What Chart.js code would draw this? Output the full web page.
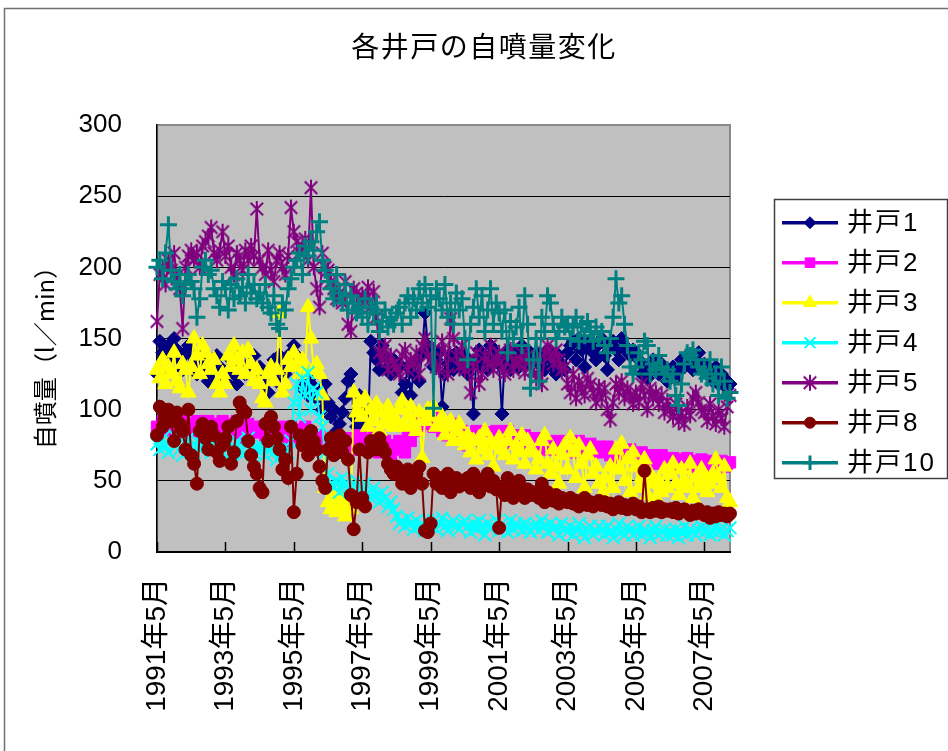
<!DOCTYPE html>
<html>
<head>
<meta charset="utf-8">
<script src="https://cdn.jsdelivr.net/npm/chart.js@4/dist/chart.umd.min.js"></script>
<style>
html,body{margin:0;padding:0;background:#fff;}
canvas{display:block;}
</style>
</head>
<body>
<canvas id="c" width="948" height="751"></canvas>
<script>
// ---- texts ----
const titleText = '各井戸の自噴量変化';
const yTitle = '自噴量（l／min）';
const seriesNames = ['井戸1','井戸2','井戸3','井戸4','井戸5','井戸8','井戸10'];
const yTicks = [0,50,100,150,200,250,300];
const xTickLabels = ['1991年5月','1993年5月','1995年5月','1997年5月','1999年5月','2001年5月','2003年5月','2005年5月','2007年5月'];

// ---- categories: monthly, 1991年5月 .. 2008年2月 ----
const startYear = 1991, startMonth = 5, monthCount = 202;
const months = [];
for (let i = 0; i < monthCount; i++) {
  const m = startMonth - 1 + i;
  months.push((startYear + Math.floor(m / 12)) + '年' + (m % 12 + 1) + '月');
}

// ---- series values (l/min), one row per year from May ----
const well1 = [
125,148,140,135,145,138,150,142,135,128,140,145,
138,130,125,135,142,128,120,132,125,138,130,122,
120,128,135,125,118,130,140,125,132,128,138,122,
130,118,125,112,128,135,120,138,130,125,132,140,
145,138,128,115,120,110,118,125,108,112,100,118,
105,95,100,85,90,98,108,120,125,95,88,110,
98,92,85,148,140,135,128,145,138,130,125,135,
128,132,112,118,130,110,125,135,120,140,168,145,
138,130,135,140,102,125,132,138,128,140,135,130,
138,125,132,97,135,142,130,138,128,145,135,140,
132,97,138,142,128,135,140,130,145,138,132,140,
135,140,132,138,128,142,135,130,125,138,132,128,
140,145,148,135,150,142,130,145,148,140,135,146,
150,138,128,145,148,142,135,150,145,140,138,142,
140,135,125,130,122,128,135,130,125,132,128,120,
125,130,122,128,135,130,138,132,128,135,140,130,
132,125,128,120,130,118,125,122,115,118];
const well2 = [
88,85,92,90,86,95,88,82,90,94,87,85,
90,88,92,85,80,88,92,86,90,84,88,92,
86,90,84,88,92,85,80,88,90,86,84,88,
85,88,82,90,86,80,84,88,82,78,85,88,
84,80,86,82,88,78,84,80,76,82,78,75,
78,75,80,72,76,78,74,80,76,72,78,82,
80,75,72,78,82,76,70,74,78,72,68,75,
72,78,75,70,82,78,85,90,88,92,95,90,
92,88,95,90,85,88,82,86,90,84,80,85,
78,75,80,82,85,80,78,84,80,82,78,85,
80,78,82,85,80,76,82,80,78,82,80,76,
78,75,80,76,72,78,74,76,72,78,75,70,
74,70,76,72,78,74,70,72,76,70,72,74,
72,70,74,68,72,70,66,72,70,68,72,66,
68,65,70,66,62,68,64,66,62,68,65,62,
64,66,62,60,65,63,66,62,64,60,63,65,
62,64,60,63,58,62,64,60,62,63];
const well3 = [
128,122,135,118,130,125,140,120,115,132,128,112,
130,150,138,125,145,140,132,128,135,118,112,125,
118,138,130,145,135,128,140,125,142,132,120,128,
118,108,105,125,130,120,128,168,112,118,135,130,
140,132,125,135,128,172,150,128,132,125,110,45,
35,30,42,28,38,32,25,40,30,112,98,105,
95,108,88,100,92,104,85,98,90,102,95,88,
92,100,106,88,95,102,90,85,98,66,92,100,
95,102,88,90,95,82,88,92,78,85,90,80,
75,82,70,78,65,80,72,85,68,78,60,75,
80,72,68,78,85,65,75,70,82,62,78,72,
70,58,65,78,82,62,55,72,60,48,68,75,
58,80,70,52,75,62,45,68,72,55,60,48,
40,52,35,60,45,72,58,76,50,65,42,70,
60,45,52,65,40,55,48,38,50,42,58,45,
55,62,48,40,58,50,45,62,38,52,45,58,
50,42,48,55,65,52,45,60,38,35];
const well4 = [
76,72,80,74,70,78,82,75,72,68,76,80,
74,70,78,72,76,80,74,70,72,78,74,70,
72,76,70,74,78,72,68,75,80,72,70,74,
70,74,68,72,76,70,65,72,68,74,70,78,
105,118,95,122,110,126,100,115,112,95,88,70,
55,48,45,50,42,52,48,45,42,48,50,44,
45,48,42,38,45,40,35,42,38,32,35,30,
25,20,22,18,24,20,16,22,18,20,15,22,
18,22,16,20,24,18,15,20,22,18,16,20,
22,18,14,20,16,22,18,12,20,16,18,22,
15,20,18,14,22,16,20,18,15,20,17,14,
18,20,15,22,18,14,20,16,18,12,20,16,
14,18,12,16,20,14,10,16,18,12,15,18,
16,12,18,14,10,16,20,14,12,18,15,12,
14,18,12,16,14,10,15,18,12,14,16,12,
15,12,16,10,14,18,12,16,14,12,15,18,
14,16,12,15,18,14,16,12,15,17];
const well5 = [
162,195,200,188,205,198,210,192,185,157,200,208,
212,205,210,200,215,218,222,228,210,205,212,225,
208,215,200,195,210,205,198,212,205,215,208,241,
205,200,195,212,198,190,205,210,200,195,208,242,
225,218,210,215,220,205,256,200,185,172,210,200,
198,190,185,178,182,175,190,160,155,185,182,172,
180,178,186,172,183,165,140,135,145,128,138,132,
130,125,138,142,128,135,132,140,125,145,150,138,
135,142,130,128,148,140,125,164,150,138,130,145,
128,135,112,130,140,118,125,138,132,145,128,136,
140,130,125,138,142,128,135,132,140,126,138,130,
128,122,135,118,140,145,138,132,142,135,128,130,
118,112,125,108,120,115,110,122,118,112,105,116,
108,115,100,93,105,118,112,120,108,115,110,104,
112,105,118,110,100,115,108,112,104,110,98,106,
100,95,104,92,98,90,102,96,108,112,105,100,
98,92,104,95,90,100,94,88,102,110];
const well8 = [
82,102,88,95,100,92,78,98,90,85,72,100,
68,62,48,85,90,80,72,88,82,70,64,75,
80,88,62,70,92,105,100,98,78,68,60,55,
45,42,90,78,95,88,80,72,58,65,52,88,
28,55,82,75,80,68,85,78,72,60,50,45,
72,80,68,75,82,70,78,65,40,16,35,72,
38,32,70,78,75,72,80,74,70,62,58,55,
60,55,48,52,58,45,50,55,60,48,15,14,
20,55,48,52,45,50,55,42,48,52,46,50,
48,52,45,55,50,42,48,52,55,46,50,44,
17,45,40,52,48,38,45,50,42,38,44,40,
42,40,38,48,35,42,38,36,40,34,38,36,
35,38,34,36,32,35,38,33,35,32,34,36,
33,35,32,34,30,33,35,31,33,30,32,34,
30,32,28,57,30,28,31,29,32,28,30,29,
30,28,31,27,29,30,28,26,29,27,30,28,
26,28,24,27,25,28,26,27,25,27];
const well10 = [
200,205,192,210,230,198,190,185,195,180,188,195,
190,185,165,178,200,205,195,198,185,180,172,190,
185,170,188,178,192,180,186,175,195,182,188,178,
182,175,188,172,168,180,160,157,175,170,185,192,
200,205,210,195,215,208,218,212,225,232,205,198,
190,185,178,195,182,175,188,170,180,175,168,172,
165,178,160,172,168,175,155,162,170,158,165,160,
168,172,160,175,180,165,178,170,185,175,188,172,
180,101,185,178,170,188,165,175,160,182,170,178,
150,135,160,172,185,165,180,155,170,185,160,175,
168,155,170,140,162,150,158,172,145,180,160,115,
135,150,120,165,155,180,175,160,150,155,165,158,
160,150,158,165,148,160,152,162,155,148,158,150,
155,145,140,150,165,192,175,180,160,145,130,125,
130,140,135,148,145,125,132,128,138,130,125,128,
120,125,110,103,118,132,140,138,142,135,130,125,
128,122,135,118,125,110,130,120,108,112];

// ---- styles ----
const FONT_LAT = "'Liberation Sans', 'Noto Sans CJK JP', sans-serif";
const FONT_CJK = "'Noto Sans CJK JP', 'Liberation Sans', sans-serif";

function starCanvas(r, color, lw) {
  const s = Math.ceil(2 * r + lw + 2);
  const c = document.createElement('canvas');
  c.width = s; c.height = s;
  const g = c.getContext('2d');
  g.strokeStyle = color; g.lineWidth = lw;
  const m = s / 2, d = r * 0.78;
  g.beginPath();
  g.moveTo(m - d, m - d); g.lineTo(m + d, m + d);
  g.moveTo(m + d, m - d); g.lineTo(m - d, m + d);
  g.moveTo(m, m - r); g.lineTo(m, m + r);
  g.stroke();
  return c;
}

const styles = [
  {color:'#000080', point:'rectRot',  r:7,   bw:1},
  {color:'#FF00FF', point:'rect',     r:8,   bw:1},
  {color:'#FFFF00', point:'triangle', r:9,   bw:1},
  {color:'#00FFFF', point:'crossRot', r:9,   bw:2},
  {color:'#800080', point:starCanvas(8,'#800080',2), r:8, bw:2},
  {color:'#800000', point:'circle',   r:6.5, bw:1},
  {color:'#008080', point:'cross',    r:8.5, bw:3}
];
const seriesData = [well1, well2, well3, well4, well5, well8, well10];

const datasets = seriesData.map((d, k) => ({
  label: seriesNames[k],
  data: d,
  borderColor: styles[k].color,
  backgroundColor: styles[k].color,
  pointBackgroundColor: styles[k].color,
  pointBorderColor: styles[k].color,
  pointStyle: styles[k].point,
  pointRadius: styles[k].r,
  pointBorderWidth: styles[k].bw,
  borderWidth: 2,
  tension: 0,
  fill: false,
  clip: false,
  order: 7 - k
}));

const decor = {
  id: 'decor',
  beforeDraw(chart) {
    const {ctx, chartArea: a} = chart;
    ctx.save();
    ctx.fillStyle = '#fff';
    ctx.fillRect(0, 0, chart.width, chart.height);
    ctx.strokeStyle = '#707070';
    ctx.lineWidth = 1.5;
    ctx.strokeRect(4.5, 8.5, 1000, 1000);
    ctx.fillStyle = '#c0c0c0';
    ctx.fillRect(a.left, a.top, a.right - a.left, a.bottom - a.top);
    ctx.strokeStyle = '#8a8a8a';
    ctx.lineWidth = 2;
    ctx.strokeRect(a.left, a.top, a.right - a.left, a.bottom - a.top);
    ctx.fillStyle = '#000';
    ctx.textAlign = 'center';
    ctx.textBaseline = 'middle';
    ctx.font = '28px ' + FONT_CJK;
    if ('letterSpacing' in ctx) ctx.letterSpacing = '1.5px';
    ctx.fillText(titleText, 484, 46);
    if ('letterSpacing' in ctx) ctx.letterSpacing = '0px';
    ctx.translate(45, 352);
    ctx.rotate(-Math.PI / 2);
    ctx.font = '24px ' + FONT_CJK;
    ctx.fillText(yTitle, 0, 0);
    ctx.restore();
  },
  beforeDatasetsDraw(chart) {
    const {ctx, chartArea: a, scales: {x}} = chart;
    ctx.save();
    ctx.strokeStyle = '#000';
    ctx.lineWidth = 1.5;
    ctx.beginPath();
    months.forEach((m, i) => {
      if (xTickLabels.includes(m)) {
        const px = Math.round(x.getPixelForValue(i)) + 0.5;
        ctx.moveTo(px, a.bottom);
        ctx.lineTo(px, a.bottom - 10);
      }
    });
    ctx.stroke();
    ctx.restore();
  },
  afterDraw(chart) {
    const ctx = chart.ctx;
    const bx = 774, by = 199, bw = 173, bh = 279;
    ctx.save();
    ctx.fillStyle = '#fff';
    ctx.fillRect(bx, by, bw, bh);
    ctx.strokeStyle = '#404040';
    ctx.lineWidth = 1.5;
    ctx.strokeRect(bx + 0.5, by + 0.5, bw, bh);
    seriesNames.forEach((name, k) => {
      const y = 222.7 + 40 * k;
      const st = styles[k];
      ctx.strokeStyle = st.color;
      ctx.lineWidth = 3.5;
      ctx.beginPath();
      ctx.moveTo(782, y); ctx.lineTo(838, y);
      ctx.stroke();
      ctx.fillStyle = st.color;
      ctx.strokeStyle = st.color;
      ctx.lineWidth = st.bw;
      Chart.helpers.drawPoint(ctx, {pointStyle: st.point, radius: st.r * 0.85, borderWidth: st.bw, rotation: 0}, 810, y);
      ctx.fillStyle = '#000';
      ctx.textAlign = 'left';
      ctx.textBaseline = 'middle';
      ctx.font = '26px ' + FONT_LAT;
      if ('letterSpacing' in ctx) ctx.letterSpacing = '2px';
      ctx.fillText(name, 847, y + 1);
      if ('letterSpacing' in ctx) ctx.letterSpacing = '0px';
    });
    ctx.restore();
  }
};

new Chart(document.getElementById('c'), {
  type: 'line',
  data: {labels: months, datasets},
  options: {
    responsive: false,
    animation: false,
    devicePixelRatio: 1,
    layout: {padding: {top: 125, right: 218, bottom: 0, left: 0}},
    plugins: {legend: {display: false}, title: {display: false}, tooltip: {enabled: false}},
    scales: {
      x: {
        type: 'category',
        offset: false,
        grid: {display: false, drawTicks: false},
        border: {display: true, color: '#000', width: 2},
        ticks: {
          autoSkip: false, maxRotation: 90, minRotation: 90, padding: 26,
          color: '#000', font: {family: FONT_LAT, size: 28},
          callback: (v, i) => xTickLabels.includes(months[i]) ? months[i] : ''
        },
        afterFit: s => { s.height = 751 - 552; }
      },
      y: {
        min: 0, max: 300,
        afterBuildTicks: s => { s.ticks = yTicks.map(v => ({value: v})); },
        grid: {color: c => (c.tick && c.tick.value === 300) ? 'rgba(0,0,0,0)' : '#000', lineWidth: 1, drawTicks: false},
        border: {display: true, color: '#000', width: 1.5},
        ticks: {padding: 35, color: '#000', font: {family: FONT_LAT, size: 26}},
        afterFit: s => { s.width = 157; }
      }
    }
  },
  plugins: [decor]
});
</script>
</body>
</html>
